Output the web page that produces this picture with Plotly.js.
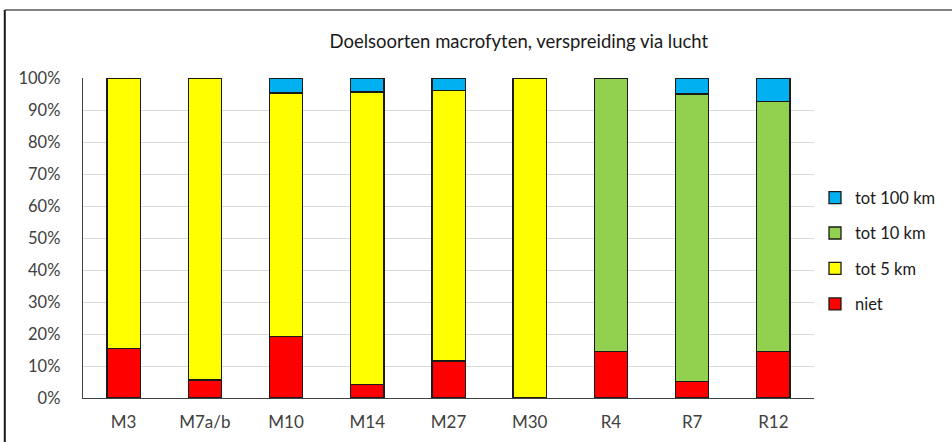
<!DOCTYPE html>
<html>
<head>
<meta charset="utf-8">
<script src="https://cdn.plot.ly/plotly-3.0.1.min.js"></script>
<style>html,body{margin:0;padding:0;background:#fff;}#chart{width:952px;height:442px;}</style>
</head>
<body>
<div id="chart"></div>
<script>
const categories = ["M3", "M7a/b", "M10", "M14", "M27", "M30", "R4", "R7", "R12"];
const niet    = [15.4, 5.6, 19.2, 4.3, 11.6, 0, 14.6, 5.2, 14.6];
const tot5km  = [84.6, 94.4, 76.1, 91.3, 84.5, 100, 0, 0, 0];
const tot10km = [0, 0, 0, 0, 0, 0, 85.4, 89.8, 78.1];
const tot100km= [0, 0, 4.7, 4.4, 3.9, 0, 0, 5.0, 7.3];
const seriesNames = ["niet", "tot 5 km", "tot 10 km", "tot 100 km"];
const seriesColors = ["#ff0000", "#ffff00", "#92d050", "#00b0f0"];
const yTickVals = [0,10,20,30,40,50,60,70,80,90,100];
const yTickText = ["0%","10%","20%","30%","40%","50%","60%","70%","80%","90%","100%"];

const seriesData = [niet, tot5km, tot10km, tot100km];
const traces = seriesData.map((vals, i) => ({
  type: "bar",
  name: seriesNames[i],
  x: categories,
  y: vals.map(v => (v === 0 ? null : v)),
  legendgroup: "g" + i,
  legendrank: 1000 - i,
  marker: { color: seriesColors[i], line: { color: "#1a1a1a", width: 1.3 } },
  hoverinfo: "x+y+name"
}));

const font = "Lato, 'Open Sans', sans-serif";
const layout = {
  width: 952, height: 442,
  margin: { l: 83, r: 137, t: 78, b: 44 },
  paper_bgcolor: "#ffffff", plot_bgcolor: "#ffffff",
  barmode: "stack",
  bargap: 0.59,
  showlegend: true,
  title: { text: "Doelsoorten macrofyten, verspreiding via lucht", font: { family: font, size: 18.5, color: "#1a1a1a" }, x: 0.545, xanchor: "center", y: 0.905, yanchor: "middle" },
  xaxis: {
    type: "category",
    tickfont: { family: font, size: 17, color: "#404040" },
    showline: true, linecolor: "#404040", linewidth: 1.3,
    ticks: "", ticklen: 0, showgrid: false,
    ticklabelstandoff: 8
  },
  yaxis: {
    range: [0, 100],
    tickvals: yTickVals, ticktext: yTickText,
    tickfont: { family: font, size: 16.5, color: "#404040" },
    showline: true, linecolor: "#404040", linewidth: 1.3,
    gridcolor: "#d9d9d9", gridwidth: 1,
    zeroline: false, ticks: "", ticklabelstandoff: 18
  },
  legend: {
    x: 1.0, xanchor: "left", y: 0.46, yanchor: "middle",
    traceorder: "grouped", tracegroupgap: 11,
    font: { family: font, size: 16.5, color: "#1a1a1a" },
    itemwidth: 30, bgcolor: "rgba(0,0,0,0)"
  },
  shapes: [
    { type: "line", xref: "paper", yref: "paper", x0: -0.107, x1: 1.2, y0: 1.2125, y1: 1.2125, line: { color: "#808080", width: 2 } },
    { type: "line", xref: "paper", yref: "paper", x0: -0.107, x1: -0.107, y0: 1.2125, y1: -0.2, line: { color: "#1a1a1a", width: 2 } }
  ]
};

Plotly.newPlot("chart", traces, layout, { displayModeBar: false, staticPlot: true });
</script>
</body>
</html>
